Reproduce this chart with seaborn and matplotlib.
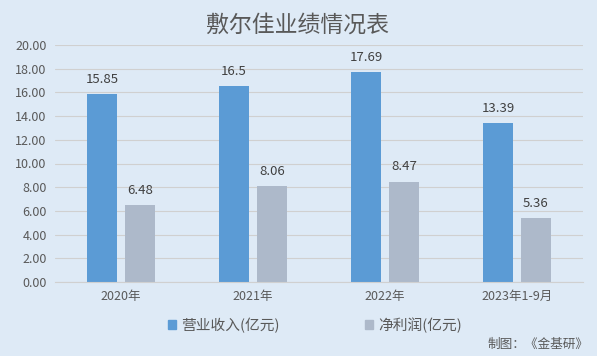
import numpy as np
import pandas as pd
import matplotlib
matplotlib.use("Agg")
import matplotlib.pyplot as plt
import seaborn as sns
from matplotlib.patches import Patch

years = ["2020年", "2021年", "2022年", "2023年1-9月"]
revenue = [15.85, 16.5, 17.69, 13.39]
profit = [6.48, 8.06, 8.47, 5.36]
series = ["营业收入(亿元)", "净利润(亿元)"]
rev_labels = ["15.85", "16.5", "17.69", "13.39"]
pro_labels = ["6.48", "8.06", "8.47", "5.36"]

bg = "#deeaf6"
sns.set_style("white")
plt.rcParams['font.family'] = ['Noto Sans CJK SC', 'DejaVu Sans']

df = pd.DataFrame({
    "year": years * 2,
    "value": revenue + profit,
    "series": [series[0]] * 4 + [series[1]] * 4,
})

fig = plt.figure(figsize=(5.97, 3.56), dpi=100, facecolor=bg)
ax = fig.add_axes([55 / 597, 1 - 282 / 356, (583 - 55) / 597, (282 - 45) / 356])
ax.set_facecolor(bg)

sns.barplot(data=df, x="year", y="value", hue="series",
            palette=["#5b9bd5", "#adb9ca"], width=0.576, gap=0.236,
            ax=ax, legend=False, saturation=1, linewidth=0)

for cont, labs in zip(ax.containers, [rev_labels, pro_labels]):
    ax.bar_label(cont, labels=labs, padding=6, fontsize=9.5, color="#404040")

ax.set_ylim(0, 20)
ax.set_xlim(-0.5, 3.5)
ax.set_yticks(np.arange(0, 21, 2))
ax.set_yticklabels([f"{v:.2f}" for v in np.arange(0, 21, 2)])
ax.yaxis.grid(True, color="#d0d0d0", linewidth=0.8)
ax.set_axisbelow(True)
for s in ["top", "right", "left"]:
    ax.spines[s].set_visible(False)
ax.spines["bottom"].set_color("#d0d0d0")
ax.tick_params(axis="both", length=0, labelsize=9, colors="#595959", pad=6)
ax.set_xlabel("")
ax.set_ylabel("")

fig.text(297.5 / 597, 1 - 25 / 356, "敷尔佳业绩情况表", ha="center", va="center",
         fontsize=16.5, color="#595959")

handles = [Patch(color="#5b9bd5"), Patch(color="#adb9ca")]
fig.legend(handles, series, loc="center", bbox_to_anchor=(315 / 597, 1 - 325 / 356),
           ncol=2, frameon=False, fontsize=10.6, handlelength=0.55, handleheight=0.55,
           handletextpad=0.35, columnspacing=5.8, labelcolor="#595959")

fig.text(588 / 597, 1 - 344 / 356, "制图：《金基研》", ha="right", va="center",
         fontsize=9.1, color="#595959")

fig.savefig("out.png", dpi=100, facecolor=bg)
